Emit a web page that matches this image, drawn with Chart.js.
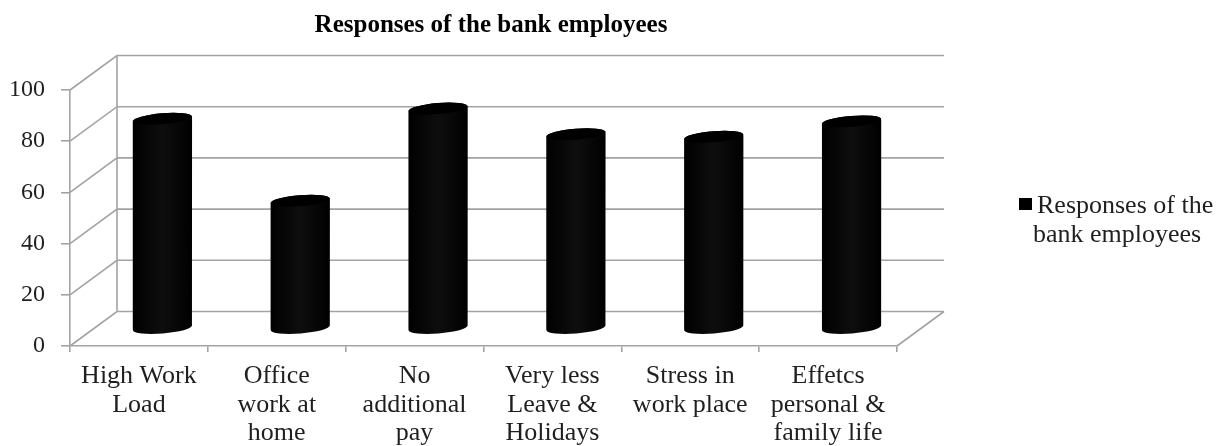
<!DOCTYPE html>
<html>
<head>
<meta charset="utf-8">
<script src="https://cdn.jsdelivr.net/npm/chart.js@4.4.1/dist/chart.umd.min.js"></script>
<style>
  html, body { margin: 0; padding: 0; background: #fff; }
  #wrap { width: 1225px; height: 446px; }
</style>
</head>
<body>
<div id="wrap"><canvas id="bankChart"></canvas></div>
<script>
const chartTitle = 'Responses of the bank employees';
const seriesName = 'Responses of the bank employees';
const legendLines = ['Responses of the', 'bank employees'];
const categories = [
    ['High Work', 'Load'],
    ['Office', 'work at', 'home'],
    ['No', 'additional', 'pay'],
    ['Very less', 'Leave &', 'Holidays'],
    ['Stress in', 'work place'],
    ['Effetcs', 'personal &', 'family life']
];
const responses = [82, 50, 86, 76, 75, 81];
const yTicks = [0, 20, 40, 60, 80, 100];

// depth of the fake 3d box (back wall offset)
const DX = 47;
const DY = -34.5;
const GRID = '#a3a3a3';
const TEXT = '#1f1f1f';
const FONT = '"Liberation Serif", "Times New Roman", serif';

const box3d = {
    id: 'box3d',
    beforeDatasetsDraw(chart) {
        const { ctx, chartArea: a, scales: { y } } = chart;
        ctx.save();
        ctx.strokeStyle = GRID;
        ctx.lineWidth = 1.6;
        ctx.beginPath();
        yTicks.forEach(v => {
            const py = y.getPixelForValue(v);
            ctx.moveTo(a.left, py);
            ctx.lineTo(a.left + DX, py + DY);
            ctx.lineTo(a.right + DX, py + DY);
        });
        // back wall edge
        ctx.moveTo(a.left + DX, y.getPixelForValue(100) + DY);
        ctx.lineTo(a.left + DX, y.getPixelForValue(0) + DY);
        // floor right edge
        ctx.moveTo(a.right, y.getPixelForValue(0));
        ctx.lineTo(a.right + DX, y.getPixelForValue(0) + DY);
        ctx.stroke();
        ctx.restore();
    },
    afterDatasetsDraw(chart) {
        const { ctx } = chart;
        const meta = chart.getDatasetMeta(0);
        ctx.save();
        meta.data.forEach(bar => {
            const cx = bar.x + DX / 2;
            const top = bar.y + DY / 2;
            const base = bar.base + DY / 2;
            const rx = bar.width / 2;
            const ry = 5.5;
            const g = ctx.createLinearGradient(cx - rx, 0, cx + rx, 0);
            g.addColorStop(0, '#000');
            g.addColorStop(0.5, '#0e0e0e');
            g.addColorStop(1, '#000');
            ctx.fillStyle = g;
            ctx.beginPath();
            ctx.moveTo(cx - rx, top);
            ctx.lineTo(cx - rx, base);
            ctx.ellipse(cx, base, rx, ry, -0.08, Math.PI, 0, true);
            ctx.lineTo(cx + rx, top);
            ctx.ellipse(cx, top, rx, ry, -0.08, 0, Math.PI, true);
            ctx.closePath();
            ctx.fill();
            ctx.beginPath();
            ctx.ellipse(cx, top, rx, ry, -0.08, 0, Math.PI * 2);
            ctx.fillStyle = '#000';
            ctx.fill();
        });
        ctx.restore();
    },
    afterDraw(chart) {
        const { ctx } = chart;
        ctx.save();
        ctx.fillStyle = '#000';
        ctx.font = 'bold 25px ' + FONT;
        ctx.textAlign = 'center';
        ctx.textBaseline = 'alphabetic';
        ctx.fillText(chartTitle, 491, 32);

        // legend
        ctx.fillStyle = '#000';
        ctx.fillRect(1019, 198, 13, 12);
        ctx.fillStyle = TEXT;
        ctx.font = '26px ' + FONT;
        ctx.textAlign = 'left';
        ctx.fillText(legendLines[0], 1037, 213);
        ctx.textAlign = 'center';
        ctx.fillText(legendLines[1], 1117, 242);
        ctx.restore();
    }
};

new Chart(document.getElementById('bankChart'), {
    type: 'bar',
    data: {
        labels: categories,
        datasets: [{
            label: seriesName,
            data: responses,
            backgroundColor: 'rgba(0,0,0,0)',
            borderWidth: 0,
            categoryPercentage: 1,
            barPercentage: 0.43
        }]
    },
    options: {
        responsive: true,
        maintainAspectRatio: false,
        animation: false,
        layout: { padding: { top: 90, right: 328, bottom: 0, left: 0 } },
        plugins: {
            legend: { display: false },
            title: { display: false },
            tooltip: { enabled: false }
        },
        scales: {
            x: {
                afterFit: s => { s.height = 100; },
                grid: { drawOnChartArea: false, tickLength: 6, color: GRID, lineWidth: 1.6 },
                border: { color: GRID, width: 1.6 },
                ticks: {
                    color: TEXT,
                    padding: 10,
                    maxRotation: 0,
                    autoSkip: false,
                    font: { family: FONT, size: 26, lineHeight: 1.1 }
                }
            },
            y: {
                min: 0,
                max: 100,
                afterFit: s => { s.width = 70; },
                grid: { drawOnChartArea: false, tickLength: 9, color: GRID, lineWidth: 1.6 },
                border: { color: GRID, width: 1.6 },
                ticks: {
                    stepSize: 20,
                    color: TEXT,
                    padding: 16,
                    font: { family: FONT, size: 24 }
                }
            }
        }
    },
    plugins: [box3d]
});
</script>
</body>
</html>
